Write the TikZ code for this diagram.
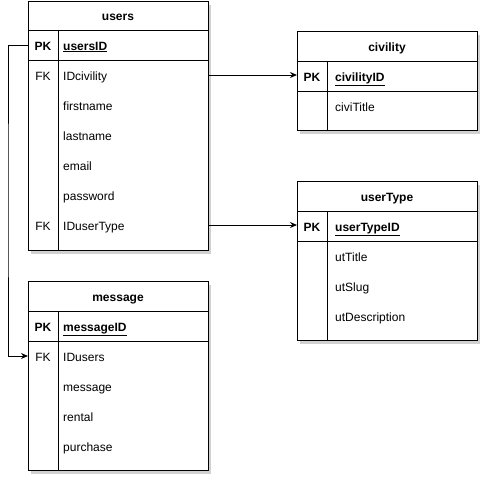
\documentclass[tikz,border=0pt]{standalone}
\usepackage{fontspec}
\setmainfont{Liberation Sans}
\usetikzlibrary{positioning,arrows.meta,shadows}
\newcommand{\erfont}{\fontsize{12}{14}\selectfont}

\begin{document}
\begin{tikzpicture}[x=1pt, y=-1pt,
    tbl/.style={draw, line width=1pt, fill=white, anchor=north west, minimum width=180pt, inner sep=0pt,
        drop shadow={shadow xshift=2pt, shadow yshift=-3pt, opacity=0.18, fill=black}},
    tline/.style={line width=1pt},
    title/.style={font=\erfont\bfseries, text height=11pt, text depth=1pt},
    key/.style={font=\erfont, text height=11pt, text depth=1pt},
    pkey/.style={key, font=\erfont\bfseries},
    field/.style={anchor=west, inner sep=0pt, font=\erfont, text height=11pt, text depth=1pt},
    pfield/.style={field, font=\erfont\bfseries},
    fk/.style={line width=1pt, -{Stealth[length=7pt,width=6pt]}}]
    \useasboundingbox (0,0) rectangle (490,483);

    % users
    \node[tbl, minimum height=249pt] (users) at (28,1) {};
    \draw[tline] (28,30) -- (208,30) (28,60) -- (208,60) (58,30) -- (58,250);
    \node[title] (users-title) at (118,15) {users};
    \node[pkey] (users-pk) at (43,45) {PK};
    \node[pfield] (users-id) at (63,45) {\underline{usersID}};
    \node[key] (users-fk1) at (43,75) {FK};
    \node[field] (users-civ) at (63,75) {IDcivility};
    \foreach \f [count=\i] in {firstname,lastname,email,password}
        \node[field] (users-\f) at (63,75+30*\i) {\f};
    \node[key] (users-fk2) at (43,225) {FK};
    \node[field] (users-type) at (63,225) {IDuserType};

    % civility
    \node[tbl, minimum height=99pt] (civ) at (297,31) {};
    \draw[tline] (297,61) -- (477,61) (297,91) -- (477,91) (327,61) -- (327,130);
    \node[title] (civ-title) at (387,46) {civility};
    \node[pkey] (civ-pk) at (312,76) {PK};
    \node[pfield] (civ-id) at (335,76) {\underline{civilityID}};
    \node[field] (civ-title2) at (335,106) {civiTitle};

    % userType
    \node[tbl, minimum height=159pt] (utype) at (297,181) {};
    \draw[tline] (297,211) -- (477,211) (297,241) -- (477,241) (327,211) -- (327,340);
    \node[title] (utype-title) at (387,196) {userType};
    \node[pkey] (utype-pk) at (312,226) {PK};
    \node[pfield] (utype-id) at (335,226) {\underline{userTypeID}};
    \foreach \f [count=\i] in {utTitle,utSlug,utDescription}
        \node[field] (utype-\f) at (335,226+30*\i) {\f};

    % message
    \node[tbl, minimum height=189pt] (msg) at (28,281) {};
    \draw[tline] (28,311) -- (208,311) (28,341) -- (208,341) (58,311) -- (58,470);
    \node[title] (msg-title) at (118,296) {message};
    \node[pkey] (msg-pk) at (43,326) {PK};
    \node[pfield] (msg-id) at (63,326) {\underline{messageID}};
    \node[key] (msg-fk) at (43,356) {FK};
    \node[field] (msg-users) at (63,356) {IDusers};
    \foreach \f [count=\i] in {message,rental,purchase}
        \node[field] (msg-\f) at (63,356+30*\i) {\f};

    % Arrows
    \coordinate (loop) at (8,200);
    \draw[fk] (users.east |- users-civ) -- (civ.west |- users-civ);
    \draw[fk] (users.east |- users-type) -- (utype.west |- users-type);
    \draw[fk] (users.west |- users-pk) -| (loop) |- (msg.west |- msg-fk);
\end{tikzpicture}
\end{document}
